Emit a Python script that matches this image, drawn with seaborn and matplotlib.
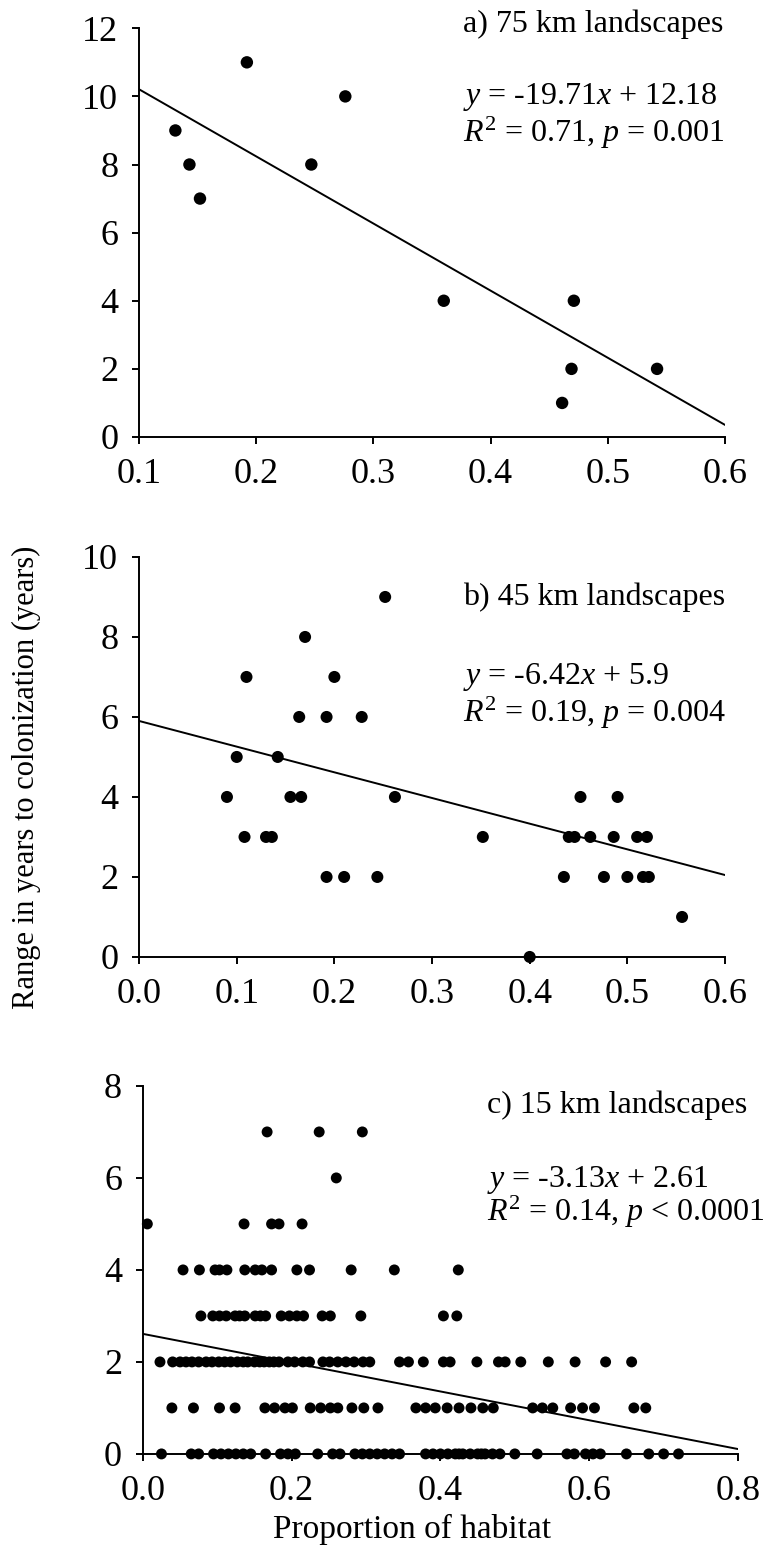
import matplotlib
matplotlib.use("Agg")
import matplotlib.pyplot as plt
import seaborn as sns
import pandas as pd

# ---------------- data ----------------
# panel a (75 km)
a_x = [0.131, 0.143, 0.152, 0.192, 0.247, 0.276, 0.360, 0.471, 0.469, 0.461, 0.542]
a_y = [9, 8, 7, 11, 8, 10, 4, 4, 2, 1, 2]
a_fit = (-19.71, 12.18)
a_xrange = [0.1, 0.6]

# panel b (45 km)
b_x = [0.090, 0.100, 0.110, 0.108, 0.130, 0.136, 0.142, 0.155, 0.166, 0.164, 0.170,
       0.192, 0.192, 0.200, 0.210, 0.228, 0.244, 0.252, 0.262, 0.352, 0.400, 0.435,
       0.440, 0.446, 0.452, 0.462, 0.476, 0.486, 0.490, 0.500, 0.510, 0.520, 0.516,
       0.522, 0.556]
b_y = [4, 5, 7, 3, 3, 3, 5, 4, 4, 6, 8,
       2, 6, 7, 2, 6, 2, 9, 4, 3, 0, 2,
       3, 3, 4, 3, 2, 3, 4, 2, 3, 3, 2,
       2, 1]
b_fit = (-6.42, 5.9)
b_xrange = [0.0, 0.6]

# panel c (15 km)
c_row7 = [0.167, 0.237, 0.295]
c_row6 = [0.260]
c_row5 = [0.006, 0.136, 0.173, 0.183, 0.214]
c_row4 = [0.054, 0.076, 0.097, 0.103, 0.113, 0.137, 0.151, 0.160, 0.173, 0.207,
          0.224, 0.280, 0.338, 0.424]
c_row3 = [0.078, 0.094, 0.103, 0.112, 0.124, 0.130, 0.137, 0.151, 0.158, 0.165,
          0.186, 0.197, 0.207, 0.216, 0.241, 0.252, 0.293, 0.404, 0.422]
c_row2 = [0.023, 0.040, 0.050, 0.058, 0.066, 0.075, 0.085, 0.093, 0.102, 0.110,
          0.118, 0.127, 0.135, 0.141, 0.150, 0.157, 0.163, 0.170, 0.176, 0.183,
          0.195, 0.204, 0.215, 0.224, 0.242, 0.251, 0.262, 0.273, 0.284, 0.296,
          0.305, 0.345, 0.357, 0.377, 0.404, 0.413, 0.449, 0.478, 0.487, 0.508,
          0.545, 0.581, 0.622, 0.657]
c_row1 = [0.039, 0.068, 0.103, 0.124, 0.164, 0.177, 0.191, 0.201, 0.225, 0.239,
          0.252, 0.262, 0.281, 0.297, 0.316, 0.367, 0.380, 0.393, 0.409, 0.425,
          0.441, 0.457, 0.471, 0.524, 0.537, 0.551, 0.575, 0.591, 0.607, 0.660,
          0.676]
c_row0 = [0.025, 0.065, 0.075, 0.095, 0.105, 0.115, 0.125, 0.135, 0.145, 0.165,
          0.185, 0.195, 0.205, 0.235, 0.255, 0.265, 0.285, 0.295, 0.305, 0.315,
          0.325, 0.335, 0.345, 0.380, 0.390, 0.400, 0.410, 0.420, 0.425, 0.430,
          0.440, 0.450, 0.455, 0.460, 0.470, 0.480, 0.500, 0.530, 0.570, 0.580,
          0.595, 0.605, 0.615, 0.650, 0.680, 0.700, 0.720]
c_fit = (-3.13, 2.61)
c_xrange = [0.0, 0.8]

titles = ["a) 75 km landscapes", "b) 45 km landscapes", "c) 15 km landscapes"]
eq1 = [r"$\mathit{y}$ = -19.71$\mathit{x}$ + 12.18",
       r"$\mathit{y}$ = -6.42$\mathit{x}$ + 5.9",
       r"$\mathit{y}$ = -3.13$\mathit{x}$ + 2.61"]
eq2 = [r"$\mathit{R}^2$ = 0.71, $\mathit{p}$ = 0.001",
       r"$\mathit{R}^2$ = 0.19, $\mathit{p}$ = 0.004",
       r"$\mathit{R}^2$ = 0.14, $\mathit{p}$ < 0.0001"]
ylabel = "Range in years to colonization (years)"
xlabel = "Proportion of habitat"

# ---------------- style ----------------
sns.set_style("ticks")
plt.rcParams["font.family"] = ["Liberation Serif", "DejaVu Serif"]
plt.rcParams["mathtext.fontset"] = "custom"
plt.rcParams["mathtext.rm"] = "Liberation Serif"
plt.rcParams["mathtext.it"] = "Liberation Serif:italic"
for key in ["text.color", "axes.labelcolor", "xtick.color", "ytick.color",
            "axes.edgecolor", "xtick.labelcolor", "ytick.labelcolor"]:
    plt.rcParams[key] = "black"
plt.rcParams["axes.linewidth"] = 1.4
plt.rcParams["xtick.major.width"] = 1.4
plt.rcParams["ytick.major.width"] = 1.4
plt.rcParams["xtick.major.size"] = 5
plt.rcParams["ytick.major.size"] = 5

fig = plt.figure(figsize=(7.64, 15.54), dpi=100)
ax_a = fig.add_axes([0.182, 0.7188, 0.767, 0.263])
ax_b = fig.add_axes([0.182, 0.3842, 0.767, 0.2574])
ax_c = fig.add_axes([0.187, 0.0644, 0.779, 0.2368])

c_x = c_row7 + c_row6 + c_row5 + c_row4 + c_row3 + c_row2 + c_row1 + c_row0
c_y = ([7] * len(c_row7) + [6] * len(c_row6) + [5] * len(c_row5) + [4] * len(c_row4)
       + [3] * len(c_row3) + [2] * len(c_row2) + [1] * len(c_row1) + [0] * len(c_row0))

panels = [
    (ax_a, a_x, a_y, a_fit, a_xrange, (0.1, 0.6), [0.1, 0.2, 0.3, 0.4, 0.5, 0.6], (0, 12), range(0, 13, 2), 0.553, (1.01, 0.831, 0.743), 80),
    (ax_b, b_x, b_y, b_fit, b_xrange, (0.0, 0.6), [0.0, 0.1, 0.2, 0.3, 0.4, 0.5, 0.6], (0, 10), range(0, 11, 2), 0.553, (0.90, 0.70, 0.61), 75),
    (ax_c, c_x, c_y, c_fit, c_xrange, (0.0, 0.8), [0.0, 0.2, 0.4, 0.6, 0.8], (0, 8), range(0, 9, 2), 0.578, (0.948, 0.745, 0.658), 62),
]

for i, (ax, xs, ys, fit, xr, xlim, xt, ylim, yt, tx, tys, ms) in enumerate(panels):
    df = pd.DataFrame({"x": xs, "y": ys})
    line = pd.DataFrame({"x": xr, "y": [fit[0] * v + fit[1] for v in xr]})
    sns.lineplot(data=line, x="x", y="y", ax=ax, color="black", linewidth=1.4)
    sns.scatterplot(data=df, x="x", y="y", ax=ax, color="black", s=ms,
                    edgecolor="none", zorder=3, clip_on=False)
    ax.set_xlim(*xlim)
    ax.set_ylim(*ylim)
    ax.set_xticks(xt)
    ax.set_xticklabels([f"{v:.1f}" for v in xt])
    ax.set_yticks(list(yt))
    ax.tick_params(labelsize=26, direction="out", pad=10)
    ax.set_xlabel("")
    ax.set_ylabel("")
    sns.despine(ax=ax)
    ax.text(tx, tys[0], titles[i], transform=ax.transAxes, fontsize=23,
            ha="left", va="center")
    ax.text(tx, tys[1], eq1[i], transform=ax.transAxes, fontsize=23,
            ha="left", va="center")
    ax.text(tx, tys[2], eq2[i], transform=ax.transAxes, fontsize=23,
            ha="left", va="center")

fig.text(0.035, 0.5, ylabel, rotation=90, fontsize=22, ha="center", va="center")
fig.text(0.54, 0.006, xlabel, fontsize=24, ha="center", va="bottom")

fig.savefig("out.png", dpi=100)
